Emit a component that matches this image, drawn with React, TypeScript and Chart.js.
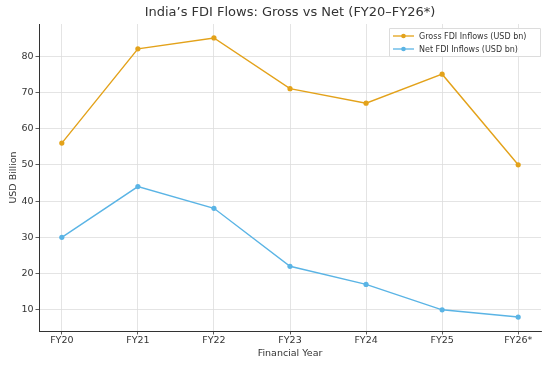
import React, { useEffect, useRef } from "react";
import { Chart, registerables } from "chart.js";

Chart.register(...registerables);

const categories = ["FY20", "FY21", "FY22", "FY23", "FY24", "FY25", "FY26*"];
const grossInflows = [56, 82, 85, 71, 67, 75, 50];
const netInflows = [30, 44, 38, 22, 17, 10, 8];
const yTicks = [10, 20, 30, 40, 50, 60, 70, 80];
const seriesNames = ["Gross FDI Inflows (USD bn)", "Net FDI Inflows (USD bn)"];
const titleText = "India\u2019s FDI Flows: Gross vs Net (FY20\u2013FY26*)";

const ORANGE = "#E3A21A";
const BLUE = "#5AB4E5";
const FONT = "'DejaVu Sans', sans-serif";

export default function App() {
  const ref = useRef<HTMLCanvasElement | null>(null);
  useEffect(() => {
    if (!ref.current) return;
    const overlay = {
      id: "overlay",
      afterDraw(chart: any) {
        const ctx = chart.ctx;
        ctx.save();
        // title
        ctx.fillStyle = "#333";
        ctx.font = `13px ${FONT}`;
        ctx.textAlign = "center";
        ctx.textBaseline = "middle";
        ctx.fillText(titleText, (chart.chartArea.left + chart.chartArea.right) / 2, 13);
        // legend
        const bx = 389, by = 28, bw = 151, bh = 28;
        ctx.fillStyle = "rgba(255,255,255,0.85)";
        ctx.strokeStyle = "#dcdcdc";
        ctx.lineWidth = 1;
        ctx.beginPath();
        ctx.rect(bx + 0.5, by + 0.5, bw, bh);
        ctx.fill();
        ctx.stroke();
        const colors = [ORANGE, BLUE];
        seriesNames.forEach((name, i) => {
          const y = by + 8 + i * 13;
          ctx.strokeStyle = colors[i];
          ctx.lineWidth = 1.3;
          ctx.beginPath();
          ctx.moveTo(bx + 4, y);
          ctx.lineTo(bx + 25, y);
          ctx.stroke();
          ctx.fillStyle = colors[i];
          ctx.beginPath();
          ctx.arc(bx + 14.5, y, 2.3, 0, Math.PI * 2);
          ctx.fill();
          ctx.fillStyle = "#333";
          ctx.font = `8px ${FONT}`;
          ctx.textAlign = "left";
          ctx.textBaseline = "middle";
          ctx.fillText(name, bx + 30, y + 0.5);
        });
        ctx.restore();
      },
    };
    const gridOpts: any = {
      color: "#dddddd",
      borderDash: [2, 2],
      tickColor: "#333",
      tickBorderDash: [],
      tickLength: 3.5,
      lineWidth: 0.8,
    };
    const chart = new Chart(ref.current, {
      type: "line",
      data: {
        datasets: [
          {
            label: seriesNames[0],
            data: grossInflows.map((v, i) => ({ x: i, y: v })),
            borderColor: ORANGE,
            backgroundColor: ORANGE,
            borderWidth: 1.4,
            pointRadius: 2.6,
            pointBorderWidth: 0,
            tension: 0,
          },
          {
            label: seriesNames[1],
            data: netInflows.map((v, i) => ({ x: i, y: v })),
            borderColor: BLUE,
            backgroundColor: BLUE,
            borderWidth: 1.4,
            pointRadius: 2.6,
            pointBorderWidth: 0,
            tension: 0,
          },
        ],
      },
      options: {
        animation: false,
        responsive: false,
        devicePixelRatio: 1,
        layout: { padding: { top: 24, right: 9, left: 8, bottom: 8 } },
        plugins: {
          legend: { display: false },
          title: { display: false },
          tooltip: { enabled: false },
        },
        scales: {
          x: {
            type: "linear",
            min: -0.3,
            max: 6.3,
            afterBuildTicks: (s: any) => {
              s.ticks = categories.map((_, i) => ({ value: i }));
            },
            afterFit: (s: any) => {
              s.height = 28;
            },
            ticks: {
              callback: (v: any) => categories[v as number] ?? "",
              color: "#333",
              font: { family: FONT, size: 9.5 },
              padding: 0,
              maxRotation: 0,
              autoSkip: false,
            },
            grid: gridOpts,
            border: { display: true, color: "#333", width: 1 },
            title: {
              display: true,
              text: "Financial Year",
              color: "#333",
              font: { family: FONT, size: 9.5 },
              padding: { top: 1, bottom: 0 },
            },
          },
          y: {
            type: "linear",
            min: 4.15,
            max: 88.85,
            afterBuildTicks: (s: any) => {
              s.ticks = yTicks.map((v) => ({ value: v }));
            },
            afterFit: (s: any) => {
              s.width = 31;
            },
            ticks: {
              color: "#333",
              font: { family: FONT, size: 9.5 },
              padding: 2,
            },
            grid: gridOpts,
            border: { display: true, color: "#333", width: 1 },
            title: {
              display: true,
              text: "USD Billion",
              color: "#333",
              font: { family: FONT, size: 9.5 },
              padding: { top: 0, bottom: 2 },
            },
          },
        },
      },
      plugins: [overlay],
    } as any);
    return () => chart.destroy();
  }, []);
  return (
    <div style={{ position: "absolute", left: 0, top: 0, width: 550, height: 367, background: "#fff" }}>
      <canvas ref={ref} width={550} height={367} style={{ display: "block", width: 550, height: 367 }} />
    </div>
  );
}
